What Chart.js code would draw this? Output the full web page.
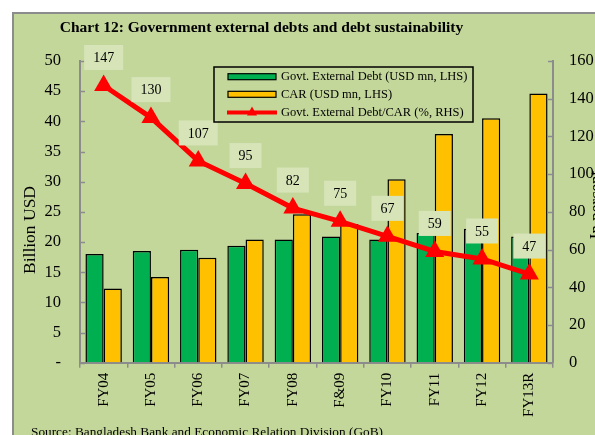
<!DOCTYPE html>
<html>
<head>
<meta charset="utf-8">
<script src="https://cdn.jsdelivr.net/npm/chart.js@4.4.1/dist/chart.umd.min.js"></script>
<style>
  html, body { margin: 0; padding: 0; background: #ffffff; overflow: hidden; width: 595px; height: 435px; }
  #wrap { position: absolute; left: 0; top: 0; width: 640px; height: 460px; }
  canvas { display: block; }
</style>
</head>
<body>
<div id="wrap"><canvas id="c" width="640" height="460"></canvas></div>
<script>
// ---- Data ----
const categories = ["FY04", "FY05", "FY06", "FY07", "FY08", "F&09", "FY10", "FY11", "FY12", "FY13R"];
const govtExternalDebt = [18.0, 18.5, 18.7, 19.4, 20.4, 20.9, 20.4, 21.5, 22.2, 20.9];
const carValues = [12.3, 14.2, 17.4, 20.4, 24.6, 23.0, 30.4, 37.9, 40.5, 44.6];
const debtToCar = [147, 130, 107, 95, 82, 75, 67, 59, 55, 47];
const seriesNames = ["Govt. External Debt (USD mn, LHS)", "CAR (USD mn, LHS)", "Govt. External Debt/CAR (%, RHS)"];
const titleText = "Chart 12: Government external debts and debt sustainability";
const leftAxisTitle = "Billion USD";
const rightAxisTitle = "In percent";
const sourceText = "Source: Bangladesh Bank and Economic Relation Division (GoB)";

const SERIF = "'Liberation Serif', 'Times New Roman', serif";
const GREEN = "#00b050", YELLOW = "#ffc000", RED = "#ff0000";
const BG = "#c4d79b", LABEL_BG = "#d6e4b8", AXIS = "#8c8c8c";

const decorPlugin = {
  id: 'decor',
  beforeDraw(chart) {
    const ctx = chart.ctx;
    ctx.save();
    ctx.fillStyle = '#ffffff';
    ctx.fillRect(0, 0, chart.width, chart.height);
    ctx.fillStyle = BG;
    ctx.fillRect(13, 13, chart.width, chart.height);
    ctx.strokeStyle = AXIS;
    ctx.lineWidth = 2;
    ctx.beginPath();
    ctx.moveTo(13, chart.height + 5);
    ctx.lineTo(13, 13);
    ctx.lineTo(chart.width + 5, 13);
    ctx.stroke();
    // title
    ctx.fillStyle = '#000';
    ctx.font = "bold 15.5px " + SERIF;
    ctx.textAlign = 'center';
    ctx.textBaseline = 'middle';
    ctx.fillText(titleText, 261.5, 28);
    // source
    ctx.font = "13.3px " + SERIF;
    ctx.textAlign = 'left';
    ctx.textBaseline = 'alphabetic';
    ctx.fillText(sourceText, 31, 436);
    // left axis title (bottom-to-top)
    ctx.save();
    ctx.translate(30, 230);
    ctx.rotate(-Math.PI / 2);
    ctx.font = "17.5px " + SERIF;
    ctx.textAlign = 'center';
    ctx.textBaseline = 'middle';
    ctx.fillText(leftAxisTitle, 0, 0);
    ctx.restore();
    // right axis title (bottom-to-top)
    ctx.save();
    ctx.translate(597, 205);
    ctx.rotate(-Math.PI / 2);
    ctx.font = "17px " + SERIF;
    ctx.textAlign = 'center';
    ctx.textBaseline = 'middle';
    ctx.fillText(rightAxisTitle, 0, 0);
    ctx.restore();
    ctx.restore();
  },
  afterDraw(chart) {
    const ctx = chart.ctx;
    const yL = chart.scales.y, yR = chart.scales.y1;
    ctx.save();
    // inner ticks on y axes
    ctx.strokeStyle = AXIS;
    ctx.lineWidth = 1.5;
    yL.ticks.forEach((t, i) => {
      const p = Math.round(yL.getPixelForTick(i)) + 0.5;
      ctx.beginPath(); ctx.moveTo(yL.right, p); ctx.lineTo(yL.right + 5, p); ctx.stroke();
    });
    yR.ticks.forEach((t, i) => {
      const p = Math.round(yR.getPixelForTick(i)) + 0.5;
      ctx.beginPath(); ctx.moveTo(yR.left, p); ctx.lineTo(yR.left - 5, p); ctx.stroke();
    });
    // data labels
    const meta = chart.getDatasetMeta(2);
    ctx.font = "14px " + SERIF;
    ctx.textAlign = 'center';
    ctx.textBaseline = 'middle';
    meta.data.forEach((pt, i) => {
      const txt = String(chart.data.datasets[2].data[i]);
      const w = ctx.measureText(txt).width + 18;
      const h = 25;
      const cx = pt.x, cy = pt.y - 28;
      ctx.fillStyle = LABEL_BG;
      ctx.fillRect(cx - w / 2, cy - h / 2, w, h);
      ctx.fillStyle = '#000';
      ctx.fillText(txt, cx, cy + 1);
    });
    // legend
    const lx = 214, ly = 67, lw = 259, lh = 55;
    ctx.strokeStyle = '#000';
    ctx.lineWidth = 1.5;
    ctx.strokeRect(lx, ly, lw, lh);
    const rows = [76.7, 94.3, 112.5];
    const ds = chart.data.datasets;
    ctx.font = "12.5px " + SERIF;
    ctx.textAlign = 'left';
    ctx.textBaseline = 'middle';
    for (let i = 0; i < 3; i++) {
      const y = rows[i];
      if (i < 2) {
        ctx.fillStyle = ds[i].backgroundColor;
        ctx.fillRect(228, y - 3, 48, 6);
        ctx.strokeStyle = '#000';
        ctx.lineWidth = 1.2;
        ctx.strokeRect(228, y - 3, 48, 6);
      } else {
        ctx.strokeStyle = RED;
        ctx.lineWidth = 4;
        ctx.beginPath(); ctx.moveTo(227, y); ctx.lineTo(277, y); ctx.stroke();
        ctx.fillStyle = RED;
        ctx.beginPath(); ctx.moveTo(252, y - 6); ctx.lineTo(257, y + 3); ctx.lineTo(247, y + 3); ctx.closePath(); ctx.fill();
      }
      ctx.fillStyle = '#000';
      ctx.fillText(ds[i].label, 281, y + 0.5);
    }
    ctx.restore();
  }
};

new Chart(document.getElementById('c'), {
  data: {
    labels: categories,
    datasets: [
      { type: 'bar', label: seriesNames[0], data: govtExternalDebt, backgroundColor: GREEN, borderColor: '#000', borderWidth: 1.5, yAxisID: 'y', order: 1, barPercentage: 1, categoryPercentage: 0.77 },
      { type: 'bar', label: seriesNames[1], data: carValues, backgroundColor: YELLOW, borderColor: '#000', borderWidth: 1.5, yAxisID: 'y', order: 1, barPercentage: 1, categoryPercentage: 0.77 },
      { type: 'line', label: seriesNames[2], data: debtToCar, borderColor: RED, backgroundColor: RED, borderWidth: 5, yAxisID: 'y1', order: 0,
        pointStyle: 'triangle', pointRadius: 11, pointBorderWidth: 0, pointBackgroundColor: RED, tension: 0 }
    ]
  },
  options: {
    responsive: false,
    animation: false,
    devicePixelRatio: 1,
    layout: { padding: { top: 61, left: 0, right: 0, bottom: 0 } },
    plugins: { legend: { display: false }, tooltip: { enabled: false } },
    scales: {
      x: {
        offset: true,
        grid: { offset: true, drawOnChartArea: false, drawTicks: true, tickLength: 5, color: AXIS, lineWidth: 1.5 },
        border: { color: AXIS, width: 2 },
        ticks: { color: '#000', font: { family: SERIF, size: 15 }, minRotation: 90, maxRotation: 90, padding: 5, autoSkip: false },
        afterFit(s) { s.height = 460 - 362.7; }
      },
      y: {
        position: 'left', min: 0, max: 50,
        grid: { drawOnChartArea: false, drawTicks: false },
        border: { color: AXIS, width: 2 },
        ticks: { stepSize: 5, color: '#000', font: { family: SERIF, size: 16.5 }, padding: 19, callback: v => v === 0 ? '-' : v },
        afterFit(s) { s.width = 80; }
      },
      y1: {
        position: 'right', min: 0, max: 160,
        grid: { drawOnChartArea: false, drawTicks: false },
        border: { color: AXIS, width: 2 },
        ticks: { stepSize: 20, color: '#000', font: { family: SERIF, size: 16.5 }, padding: 16 },
        afterFit(s) { s.width = 640 - 553; }
      }
    }
  },
  plugins: [decorPlugin]
});
</script>
</body>
</html>
